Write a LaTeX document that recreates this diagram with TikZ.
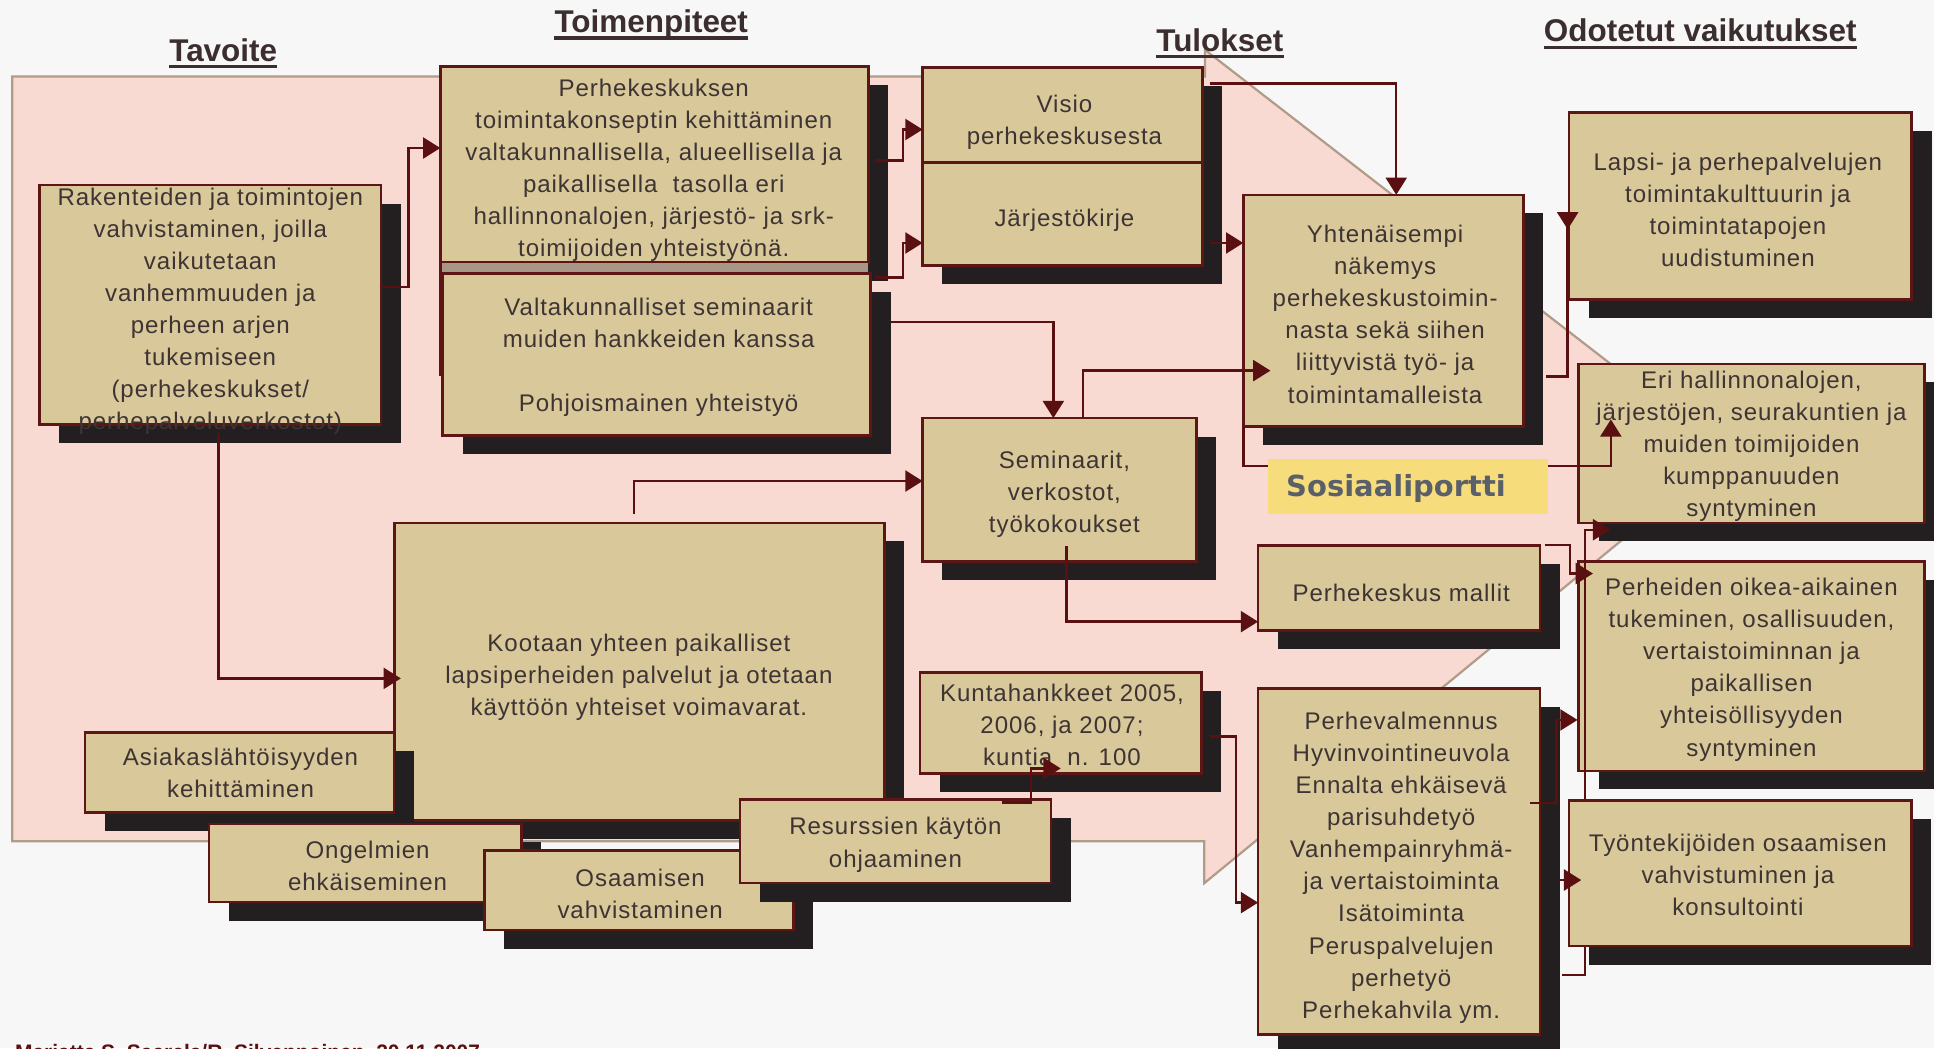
\documentclass[tikz,border=0pt]{standalone}
\usepackage{fontspec}
\setmainfont{Liberation Sans}
\newfontfamily\bxf[LetterSpace=4]{Liberation Sans}
\newfontfamily\sosf{DejaVu Sans}
\usetikzlibrary{arrows.meta,shadows}
\definecolor{bgc}{RGB}{247,247,247}
\definecolor{pinkc}{RGB}{248,218,210}
\definecolor{pinkline}{RGB}{176,156,136}
\definecolor{boxfill}{RGB}{216,200,154}
\definecolor{boxline}{RGB}{92,22,22}
\definecolor{shadowc}{RGB}{35,31,32}
\definecolor{txtc}{RGB}{62,52,52}
\definecolor{arrc}{RGB}{90,16,16}
\definecolor{yelc}{RGB}{247,220,124}
\definecolor{sostxt}{RGB}{90,96,106}
\definecolor{bandc}{RGB}{168,150,134}
\definecolor{headc}{RGB}{60,46,46}
\tikzset{
  bx/.style={draw=boxline,line width=2.2pt,fill=boxfill,inner sep=0pt,outer sep=0pt,
    general shadow={fill=shadowc,shadow xshift=16pt,shadow yshift=-15pt}},
  tx/.style={font=\bxf\fontsize{19.5}{26}\selectfont,text=txtc,align=center,inner sep=0pt,
    yshift=-3.8pt,execute at begin node=\strut,execute at end node=\strut},
  hd/.style={font=\bfseries\fontsize{25.5}{30}\selectfont,text=headc,inner sep=0pt,anchor=base},
  ul/.style={draw=headc,line width=2.6pt},
  conn/.style={draw=arrc,line width=2pt,-{Triangle[length=14pt,width=17pt]}},
  connr/.style={draw=arrc,line width=2pt,-{Triangle[reversed,length=14pt,width=17pt]}}
}
\begin{document}
\begin{tikzpicture}[x=1pt,y=-1pt]
\useasboundingbox (0,0) rectangle (1568,850);
\fill[bgc] (0,0) rectangle (1568,850);
% big pink arrow
\draw[pinkline,line width=1.8pt,fill=pinkc] (10,62) -- (977,62) -- (977,40.5) -- (1400,368)
  -- (976.4,716) -- (976.4,682) -- (10,682) -- cycle;

% headings
\node[hd] (h1) at (181,50) {Tavoite};
\draw[ul] ([yshift=-4pt]h1.base west) -- ([yshift=-4pt]h1.base east);
\node[hd] (h2) at (528,26.5) {Toimenpiteet};
\draw[ul] ([yshift=-4.3pt]h2.base west) -- ([yshift=-4.3pt]h2.base east);
\node[hd] (h3) at (989,41.9) {Tulokset};
\draw[ul] ([yshift=-3.8pt]h3.base west) -- ([yshift=-3.8pt]h3.base east);
\node[hd] (h4) at (1378.5,33.8) {Odotetut vaikutukset};
\draw[ul] ([yshift=-4.6pt]h4.base west) -- ([yshift=-4.6pt]h4.base east);

% boxes
\node[bx,minimum width=277pt,minimum height=194pt] (rak) at (170.5,247) {};
\node[tx] (rakt) at (170.5,250.3) {Rakenteiden ja toimintojen\\vahvistaminen, joilla\\vaikutetaan\\vanhemmuuden ja\\perheen arjen\\tukemiseen\\(perhekeskukset/\\perhepalveluverkostot)};

\node[bx,minimum width=347pt,minimum height=159pt] (perhek) at (530.5,133.5) {};
\node[tx] (perhekt) at (530,136.3) {Perhekeskuksen\\toimintakonseptin kehittäminen\\valtakunnallisella, alueellisella ja\\paikallisella\ \ tasolla eri\\hallinnonalojen, järjestö- ja srk-\\toimijoiden yhteistyönä.};
\fill[bandc] (357,213) rectangle (704,222);
\draw[boxline,line width=2.2pt] (357,213) -- (357,305);

\node[bx,minimum width=347pt,minimum height=131pt] (valt) at (532.5,287.5) {};
\node[tx] (valtt) at (534,288) {Valtakunnalliset seminaarit\\muiden hankkeiden kanssa\\[26pt]Pohjoismainen yhteistyö};

\node[bx,minimum width=227pt,minimum height=77pt] (visio) at (861.5,93.5) {};
\node[tx] (visiot) at (863,97) {Visio\\perhekeskusesta};
\node[bx,minimum width=227pt,minimum height=83pt] (jarj) at (861.5,173.5) {};
\node[tx] (jarjt) at (863,175) {Järjestökirje};

\node[bx,minimum width=227pt,minimum height=188pt] (yht) at (1121.5,252) {};
\node[tx] (yhtt) at (1123,254.8) {Yhtenäisempi\\näkemys\\perhekeskustoimin-\\nasta sekä siihen\\liittyvistä työ- ja\\toimintamalleista};

\node[bx,minimum width=278pt,minimum height=152pt] (lapsi) at (1411,167) {};
\node[tx] (lapsit) at (1409,170.3) {Lapsi- ja perhepalvelujen\\toimintakulttuurin ja\\toimintatapojen\\uudistuminen};

\node[bx,minimum width=280pt,minimum height=129pt] (eri) at (1420,359.5) {};
\node[tx] (erit) at (1420,360) {Eri hallinnonalojen,\\järjestöjen, seurakuntien ja\\muiden toimijoiden\\kumppanuuden\\syntyminen};

\node[bx,minimum width=222pt,minimum height=116pt] (sem) at (859,397) {};
\node[tx] (semt) at (863,399) {Seminaarit,\\verkostot,\\työkokoukset};

\node[bx,minimum width=228.5pt,minimum height=69pt] (pkm) at (1134.25,476.5) {};
\node[tx] (pkmt) at (1136,479) {Perhekeskus mallit};

\node[bx,minimum width=280pt,minimum height=170pt] (perh) at (1420,540) {};
\node[tx] (perht) at (1420,541) {Perheiden oikea-aikainen\\tukeminen, osallisuuden,\\vertaistoiminnan ja\\paikallisen\\yhteisöllisyyden\\syntyminen};

\node[bx,minimum width=228.5pt,minimum height=281pt] (pval) at (1134.25,698.5) {};
\node[tx] (pvalt) at (1136,701.5) {Perhevalmennus\\Hyvinvointineuvola\\Ennalta ehkäisevä\\parisuhdetyö\\Vanhempainryhmä-\\ja vertaistoiminta\\Isätoiminta\\Peruspalvelujen\\perhetyö\\Perhekahvila ym.};

\node[bx,minimum width=228pt,minimum height=82pt] (kunta) at (860,586) {};
\node[tx] (kuntat) at (861,588) {Kuntahankkeet 2005,\\2006, ja 2007;\\kuntia\ \ n. 100};

\node[bx,minimum width=397pt,minimum height=241pt] (koot) at (518.5,544.5) {};
\node[tx] (koott) at (518,547) {Kootaan yhteen paikalliset\\lapsiperheiden palvelut ja otetaan\\käyttöön yhteiset voimavarat.};

\node[bx,minimum width=250.5pt,minimum height=64.5pt] (asiak) at (194.25,626.25) {};
\node[tx] (asiakt) at (195,627) {Asiakaslähtöisyyden\\kehittäminen};

\node[bx,minimum width=253.2pt,minimum height=63.4pt] (ong) at (296.1,699.7) {};
\node[tx] (ongt) at (298,702) {Ongelmien\\ehkäiseminen};

\node[bx,minimum width=250.8pt,minimum height=64.4pt] (osa) at (518,721.8) {};
\node[tx] (osat) at (519,725) {Osaamisen\\vahvistaminen};

\node[bx,minimum width=252pt,minimum height=68pt] (res) at (726,682) {};
\node[tx] (rest) at (726,683) {Resurssien käytön\\ohjaaminen};

% connectors
\draw[conn] ([yshift=14.5pt]rak.east) -- ++(22,0) |- ([yshift=13.5pt]perhek.west);
\draw[conn] ([xshift=5.6pt,yshift=3.5pt]perhek.east) -- ++(22.4,0) |- ([yshift=-11.5pt]visio.west);
\draw[conn] ([xshift=3pt,yshift=62.5pt]valt.east) -- ++(23,0) |- ([yshift=-23.5pt]jarj.west);
\draw[conn] ([xshift=6pt,yshift=25.9pt]visio.east) -| ([xshift=10.5pt]yht.north);
\draw[conn] ([xshift=6pt,yshift=-23.5pt]jarj.east) -- ([yshift=55pt]yht.west);
\draw[conn] ([xshift=16pt,yshift=26.5pt]valt.east) -| ([xshift=-5pt]sem.north);
\draw[conn] ([xshift=19pt]sem.north) |- ([xshift=22pt,yshift=-48.5pt]yht.west);
\draw[conn] ([xshift=-4.5pt,yshift=7pt]koot.north) |- ([yshift=7pt]sem.west);
\draw[conn] ([xshift=6.5pt,yshift=-7pt]rak.south) |- ([xshift=5pt,yshift=-5.5pt]koot.west);
\draw[connr] ([xshift=18.5pt,yshift=-53.4pt]yht.east) -| ([xshift=-1pt,yshift=-5pt]lapsi.west);
\draw[conn] (yht.south west) -- ++(0,31.6) -| ([xshift=26pt,yshift=-45pt]eri.north west);
\draw[conn] ([xshift=4pt]pkm.north east) -- ++(20.4,0) |- ([xshift=11.5pt,yshift=75pt]perh.west);
\draw[conn] ([xshift=17.5pt,yshift=-92pt]pval.east) -- ++(19,0) |- ([xshift=25.5pt,yshift=-5.5pt]eri.south west);
\draw[conn] ([xshift=-8pt,yshift=47.5pt]pval.east) -- ++(21.5,0) |- ([xshift=-1pt,yshift=-43.7pt]perh.west);
\draw[conn] ([xshift=5.6pt,yshift=12pt]sem.south) |- ([yshift=-27.5pt]pkm.west);
\draw[conn] ([xshift=7pt,yshift=-11pt]kunta.east) -- ++(21,0) |- ([yshift=-33.3pt]pval.west);
\draw[conn] ([xshift=86pt,yshift=-2.8pt]res.north) -- ++(24,0) |- ([yshift=4pt]kunta.south);

% box drawn over the connector to Eri
\node[bx,minimum width=277.5pt,minimum height=118pt] (tyon) at (1410.75,708) {};
\node[tx] (tyont) at (1409,709) {Työntekijöiden osaamisen\\vahvistuminen ja\\konsultointi};
\draw[conn] ([xshift=15.5pt,yshift=-15pt]pval.east) -- ([xshift=10pt,yshift=-5.5pt]tyon.west);

% Sosiaaliportti label
\node[fill=yelc,minimum width=227pt,minimum height=45pt,inner sep=0pt] (sos) at (1141.5,394.5) {};
\node[anchor=base west,inner sep=0pt,font=\sosf\bfseries\fontsize{23.5}{28}\selectfont,text=sostxt] (sost) at (1042.6,402.7) {Sosiaaliportti};

% footer (cut off at page edge, as in the reference)
\node[anchor=north west,inner sep=0pt,font=\bfseries\fontsize{17}{20}\selectfont,text=arrc] (foot) at (12,846.5) {Marjatta S. Saarela/R. Silvennoinen\ \ 20.11.2007};
\end{tikzpicture}
\end{document}
